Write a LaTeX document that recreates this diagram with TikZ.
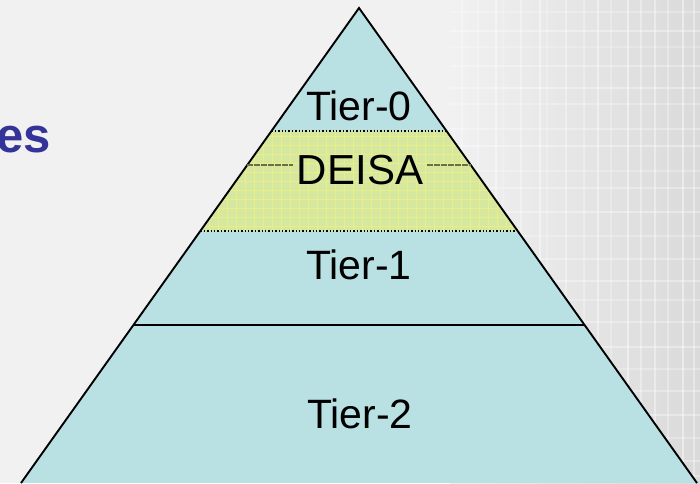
\documentclass[tikz,border=0pt]{standalone}
\usepackage{fontspec}
\setmainfont{Liberation Sans}
\usetikzlibrary{calc}
\definecolor{bgleft}{HTML}{F1F1F1}
\definecolor{bgright}{HTML}{DADADA}
\definecolor{tierfill}{HTML}{B9E0E3}
\definecolor{deisafill}{HTML}{D6E8A0}
\definecolor{gridyellow}{HTML}{E8EE88}
\definecolor{titleblue}{HTML}{333399}
\definecolor{olive}{HTML}{6E6E44}
\tikzset{
  tierlabel/.style={font=\fontsize{41}{41}\selectfont, inner sep=2pt},
  outline/.style={draw=black, line width=1.9pt, line join=miter},
  bandedge/.style={draw=black, line width=1.4pt, dotted},
}
\begin{document}
\begin{tikzpicture}[x=1pt,y=-1pt]
\useasboundingbox (0,0) rectangle (700,483);
% backdrop: plain on the left, woven grey texture towards the right
\fill[bgleft] (0,0) rectangle (700,483);
\shade[left color=bgleft, right color=bgright] (450,0) rectangle (700,483);
\foreach \x/\o in {462/0.3,478/0.25,496/0.35,503/0.2,521/0.3,540/0.4,547/0.25,566/0.35,584/0.3,598/0.4,611/0.25,628/0.45,641/0.35,655/0.4,668/0.3,683/0.45,694/0.35}
  \draw[white, opacity=\o, line width=1.1pt] (\x,0) -- (\x,483);
\foreach \y/\o in {12/0.25,31/0.35,47/0.2,66/0.3,88/0.35,104/0.25,129/0.3,146/0.35,171/0.25,188/0.3,212/0.35,236/0.25,259/0.3,281/0.35,300/0.25,322/0.3,347/0.35,369/0.25,391/0.3,415/0.35,438/0.25,461/0.3,476/0.35}
  \draw[white, opacity=\o, line width=1.1pt] (450,\y) -- (700,\y);
% cut-off heading on the left
\node[anchor=base west, inner sep=0pt, text=titleblue, font=\fontsize{49}{49}\selectfont\bfseries] (heading) at (-4,152) {es};
% pyramid corners
\coordinate (apex) at (359,8);
\coordinate (bl) at (21,483);
\coordinate (br) at (697,483);
% pyramid body
\fill[tierfill] (apex) -- (bl) -- (br) -- cycle;
% DEISA band between y=131 and y=231
\coordinate (d1l) at ($(apex)!0.2589!(bl)$);
\coordinate (d1r) at ($(apex)!0.2589!(br)$);
\coordinate (d2l) at ($(apex)!0.4695!(bl)$);
\coordinate (d2r) at ($(apex)!0.4695!(br)$);
\fill[deisafill] (d1l) -- (d1r) -- (d2r) -- (d2l) -- cycle;
\begin{scope}
  \clip (d1l) -- (d1r) -- (d2r) -- (d2l) -- cycle;
  \foreach \x in {200,209,...,520}
    \draw[gridyellow, line width=0.6pt] (\x,131) -- (\x,231);
  \foreach \y in {136,145,...,231}
    \draw[gridyellow, line width=0.6pt] (200,\y) -- (520,\y);
\end{scope}
\draw[bandedge] (d1l) -- (d1r);
\draw[bandedge] (d2l) -- (d2r);
% Tier-1 / Tier-2 boundary
\coordinate (t2l) at ($(apex)!0.6674!(bl)$);
\coordinate (t2r) at ($(apex)!0.6674!(br)$);
\draw[black, line width=2pt] (t2l) -- (t2r);
% outline
\draw[outline] (bl) -- (apex) -- (br);
% labels
\node[tierlabel] (t0) at (359,106) {Tier-0};
\node[tierlabel, font=\fontsize{42}{42}\selectfont, inner sep=4pt] (deisa) at (360,170) {DEISA};
\node[tierlabel] (t1) at (359,265) {Tier-1};
\node[tierlabel] (t2) at (360,414) {Tier-2};
% rule through the DEISA band on either side of its label
\coordinate (dml) at ($(apex)!0.3305!(bl)$);
\coordinate (dmr) at ($(apex)!0.3305!(br)$);
\draw[olive, line width=2.6pt, dash pattern=on 6pt off 1pt] (dml) -- (deisa.west |- dml);
\draw[olive, line width=2.6pt, dash pattern=on 6pt off 1pt] (deisa.east |- dmr) -- (dmr);
\end{tikzpicture}
\end{document}
